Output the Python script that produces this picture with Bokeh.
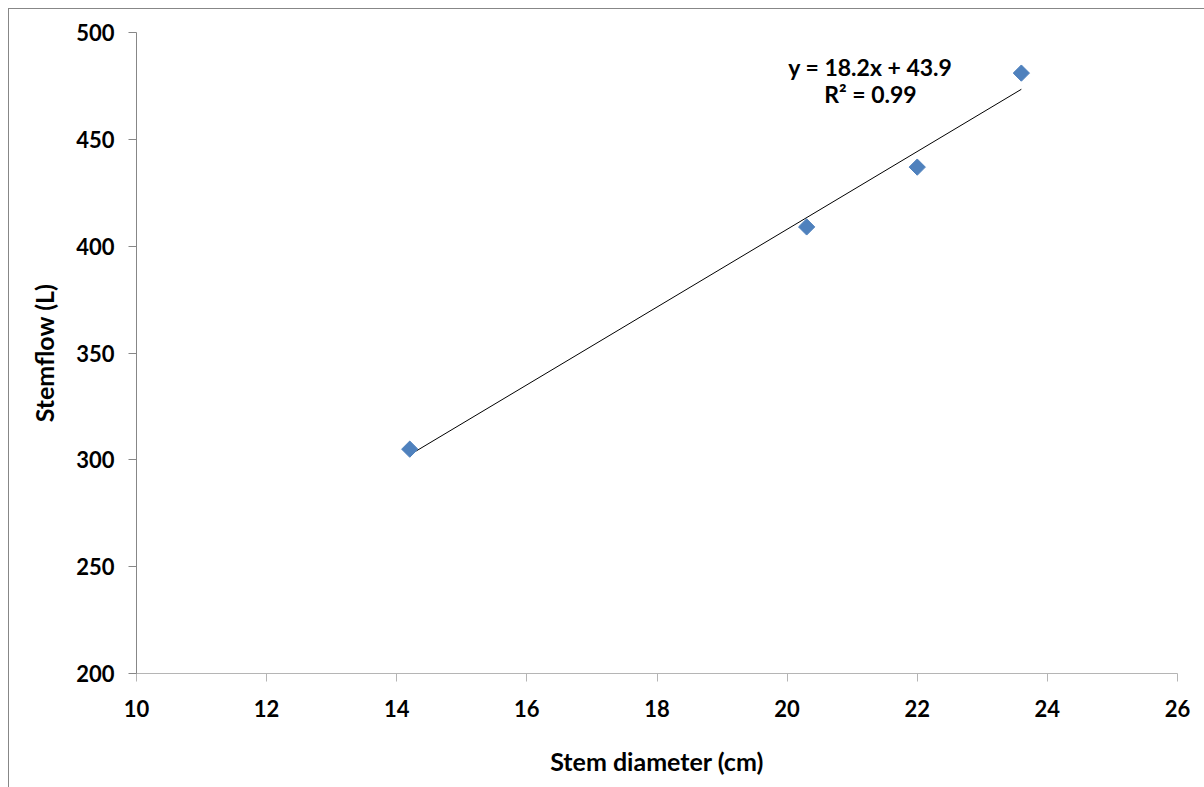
import numpy as np
from bokeh.plotting import figure
from bokeh.models import ColumnDataSource, Label, FixedTicker, Range1d
from bokeh.embed import file_html
from bokeh.resources import INLINE

# Data
stem_diameter = [14.2, 20.3, 22.0, 23.6]
stemflow = [305, 409, 437, 481]
slope = 18.2
intercept = 43.9
r_squared = 0.99
x_ticks = [10, 12, 14, 16, 18, 20, 22, 24, 26]
y_ticks = [200, 250, 300, 350, 400, 450, 500]

FONT = "Lato"

p = figure(width=1196, height=779, output_backend="svg", toolbar_location=None,
           x_range=Range1d(10, 26), y_range=Range1d(200, 500),
           min_border_left=127, min_border_right=28, min_border_top=23, min_border_bottom=115,
           margin=(8, 0, 0, 8),
           styles={"border-left": "1px solid #878787", "border-top": "1px solid #878787",
                   "box-sizing": "border-box"})
p.background_fill_color = "white"
p.border_fill_color = "white"
p.outline_line_color = None
p.xgrid.visible = False
p.ygrid.visible = False

src = ColumnDataSource(dict(x=stem_diameter, y=stemflow))

# trendline from the fit coefficients
xs = np.array([min(stem_diameter), max(stem_diameter)])
p.line(xs, slope * xs + intercept, line_color="black", line_width=1)

p.scatter("x", "y", source=src, marker="square", angle=np.pi / 4, size=11.5,
          fill_color="#4F81BD", line_color="#4F81BD")

# axes
for ax in (p.xaxis, p.yaxis):
    ax.major_label_text_font = FONT
    ax.major_label_text_font_style = "bold"
    ax.major_label_text_font_size = "22px"
    ax.major_label_text_color = "black"
    ax.axis_label_text_font = FONT
    ax.axis_label_text_font_style = "bold"
    ax.axis_label_text_font_size = "25px"
    ax.axis_label_text_color = "black"
    ax.minor_tick_line_color = None
    ax.major_tick_in = 0
    ax.major_tick_out = 8

p.xaxis.ticker = FixedTicker(ticks=x_ticks)
p.yaxis.ticker = FixedTicker(ticks=y_ticks)
p.xaxis.axis_line_color = "#b5b5b5"
p.xaxis.major_tick_line_color = "#b5b5b5"
p.yaxis.axis_line_color = "#878787"
p.yaxis.major_tick_line_color = "#878787"
p.xaxis.axis_label = "Stem diameter (cm)"
p.yaxis.axis_label = "Stemflow (L)"
p.xaxis.major_label_standoff = 18
p.yaxis.major_label_standoff = 14
p.xaxis.axis_label_standoff = 26
p.yaxis.axis_label_standoff = 14

eq = Label(x=21.28, y=500 - (66 - 32) / (640 / 300), text=f"y = {slope}x + {intercept}",
           text_font=FONT, text_font_style="bold", text_font_size="23px",
           text_align="center", text_baseline="middle", text_color="black")
r2 = Label(x=21.28, y=500 - (93 - 32) / (640 / 300), text=f"R² = {r_squared}",
           text_font=FONT, text_font_style="bold", text_font_size="23px",
           text_align="center", text_baseline="middle", text_color="black")
p.add_layout(eq)
p.add_layout(r2)

open("out.html", "w").write(file_html(p, INLINE))
